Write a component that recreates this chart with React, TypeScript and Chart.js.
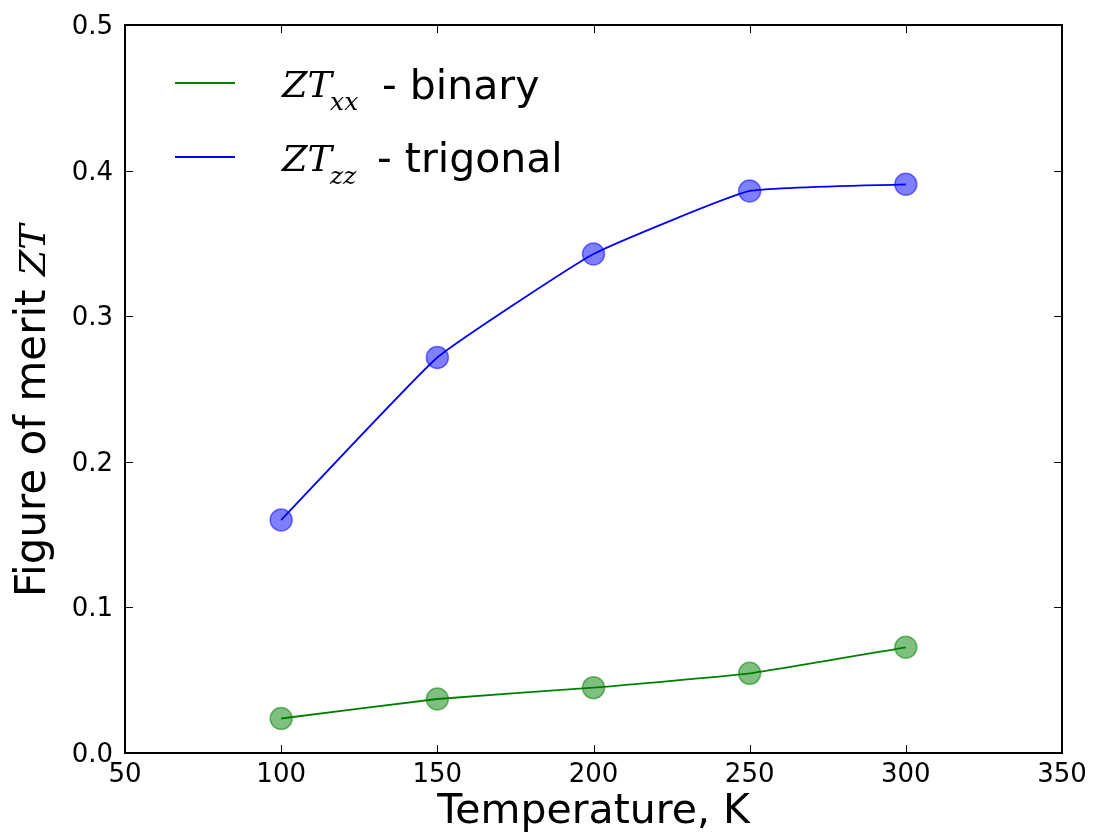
import React, { useEffect, useRef } from "react";
import { Chart, registerables } from "chart.js";

Chart.register(...registerables);

// ---- data ----
const temperatures = [100, 150, 200, 250, 300];
const ztBinary = [0.0237, 0.0371, 0.0449, 0.0547, 0.0726];
const ztTrigonal = [0.16, 0.2716, 0.3427, 0.386, 0.3906];
const xTickValues = [50, 100, 150, 200, 250, 300, 350];
const yTickValues = [0.0, 0.1, 0.2, 0.3, 0.4, 0.5];
const xTickLabels = ["50", "100", "150", "200", "250", "300", "350"];
const yTickLabels = ["0.0", "0.1", "0.2", "0.3", "0.4", "0.5"];
const xTitle = "Temperature, K";
const yTitle = "Figure of merit ";
const legendSubs = ["xx", "zz"];
const legendTexts = ["- binary", "- trigonal"];

const GREEN = "#008000";
const BLUE = "#0000ff";
const legendColors = [GREEN, BLUE];

const decorPlugin = {
  id: "decor",
  afterDraw(chart: any) {
    const ctx = chart.ctx as CanvasRenderingContext2D;
    const { left, right, top, bottom } = chart.chartArea;
    const xs = chart.scales.x;
    const ys = chart.scales.y;
    ctx.save();
    // inward ticks on all four sides
    ctx.strokeStyle = "#000";
    ctx.lineWidth = 1;
    const tl = 8;
    xTickValues.forEach((v) => {
      const px = Math.round(xs.getPixelForValue(v)) + 0.5;
      ctx.beginPath();
      ctx.moveTo(px, bottom);
      ctx.lineTo(px, bottom - tl);
      ctx.moveTo(px, top);
      ctx.lineTo(px, top + tl);
      ctx.stroke();
    });
    yTickValues.forEach((v) => {
      const py = Math.round(ys.getPixelForValue(v)) + 0.5;
      ctx.beginPath();
      ctx.moveTo(left, py);
      ctx.lineTo(left + tl, py);
      ctx.moveTo(right, py);
      ctx.lineTo(right - tl, py);
      ctx.stroke();
    });
    // frame
    ctx.lineWidth = 2;
    ctx.strokeStyle = "#000";
    ctx.strokeRect(left, top, right - left, bottom - top);

    // tick labels
    ctx.fillStyle = "#000";
    ctx.font = "26px 'DejaVu Sans'";
    ctx.textBaseline = "alphabetic";
    ctx.textAlign = "center";
    xTickValues.forEach((v, i) => {
      ctx.fillText(xTickLabels[i], xs.getPixelForValue(v), bottom + 29);
    });
    ctx.textAlign = "right";
    yTickValues.forEach((v, i) => {
      ctx.fillText(yTickLabels[i], left - 12, ys.getPixelForValue(v) + 9);
    });

    // x title
    ctx.font = "41px 'DejaVu Sans'";
    ctx.textAlign = "center";
    ctx.fillText(xTitle, (left + right) / 2, 823);

    // y title (rotated)
    ctx.save();
    ctx.translate(45, 597);
    ctx.rotate(-Math.PI / 2);
    ctx.textAlign = "left";
    ctx.font = "42px 'DejaVu Sans'";
    const w1 = ctx.measureText(yTitle).width;
    ctx.fillText(yTitle, 0, 0);
    ctx.font = "italic 36px 'DejaVu Serif'";
    ctx.scale(1.05, 1);
    ctx.fillText("ZT", w1 / 1.05, 0);
    ctx.restore();

    // legend
    const rows = [83, 157];
    const zBase = [97, 171];
    const tBase = [99, 172];
    const textX = [382, 377];
    legendTexts.forEach((txt, i) => {
      ctx.strokeStyle = legendColors[i];
      ctx.lineWidth = 1.8;
      ctx.beginPath();
      ctx.moveTo(left + 50, rows[i]);
      ctx.lineTo(left + 110, rows[i]);
      ctx.stroke();
      ctx.fillStyle = "#000";
      ctx.textAlign = "left";
      const bx = left + 157;
      ctx.font = "italic 35px 'DejaVu Serif'";
      ctx.save();
      ctx.translate(bx, zBase[i]);
      ctx.scale(1.05, 1);
      ctx.fillText("ZT", 0, 0);
      const zw = ctx.measureText("ZT").width * 1.05;
      ctx.restore();
      ctx.font = "italic 25px 'DejaVu Serif'";
      ctx.fillText(legendSubs[i], bx + zw - 2, zBase[i] + 13);
      ctx.font = "41px 'DejaVu Sans'";
      ctx.fillText(txt, textX[i], tBase[i]);
    });
    ctx.restore();
  },
};

export default function App() {
  const ref = useRef<HTMLCanvasElement | null>(null);
  useEffect(() => {
    if (!ref.current) return;
    const pts = (ys: number[]) => temperatures.map((t, i) => ({ x: t, y: ys[i] }));
    const markerDs = (ys: number[], rgba: string, label: string) => ({
      label,
      data: pts(ys),
      showLine: false,
      pointRadius: 11,
      pointBorderWidth: 1.5,
      pointBackgroundColor: rgba,
      pointBorderColor: rgba,
      order: 3,
    });
    const lineDs = (ys: number[], color: string, label: string) => ({
      label,
      data: pts(ys),
      showLine: true,
      borderColor: color,
      borderWidth: 1.8,
      pointRadius: 0,
      tension: 0.12,
      order: 1,
    });
    const chart = new Chart(ref.current, {
      type: "scatter",
      data: {
        datasets: [
          markerDs(ztBinary, "rgba(0,128,0,0.5)", "binary markers"),
          markerDs(ztTrigonal, "rgba(0,0,255,0.5)", "trigonal markers"),
          lineDs(ztBinary, GREEN, "binary"),
          lineDs(ztTrigonal, BLUE, "trigonal"),
        ] as any,
      },
      options: {
        animation: false,
        responsive: false,
        events: [],
        layout: { padding: { left: 125, right: 31, top: 25, bottom: 82 } },
        plugins: { legend: { display: false }, tooltip: { enabled: false } },
        scales: {
          x: { type: "linear", min: 50, max: 350, display: false },
          y: { type: "linear", min: 0, max: 0.5, display: false },
        },
      },
      plugins: [decorPlugin],
    });
    return () => chart.destroy();
  }, []);
  return (
    <div style={{ position: "absolute", left: 0, top: 0, width: 1093, height: 835, background: "#fff" }}>
      <canvas ref={ref} width={1093} height={835} style={{ display: "block" }} />
    </div>
  );
}
